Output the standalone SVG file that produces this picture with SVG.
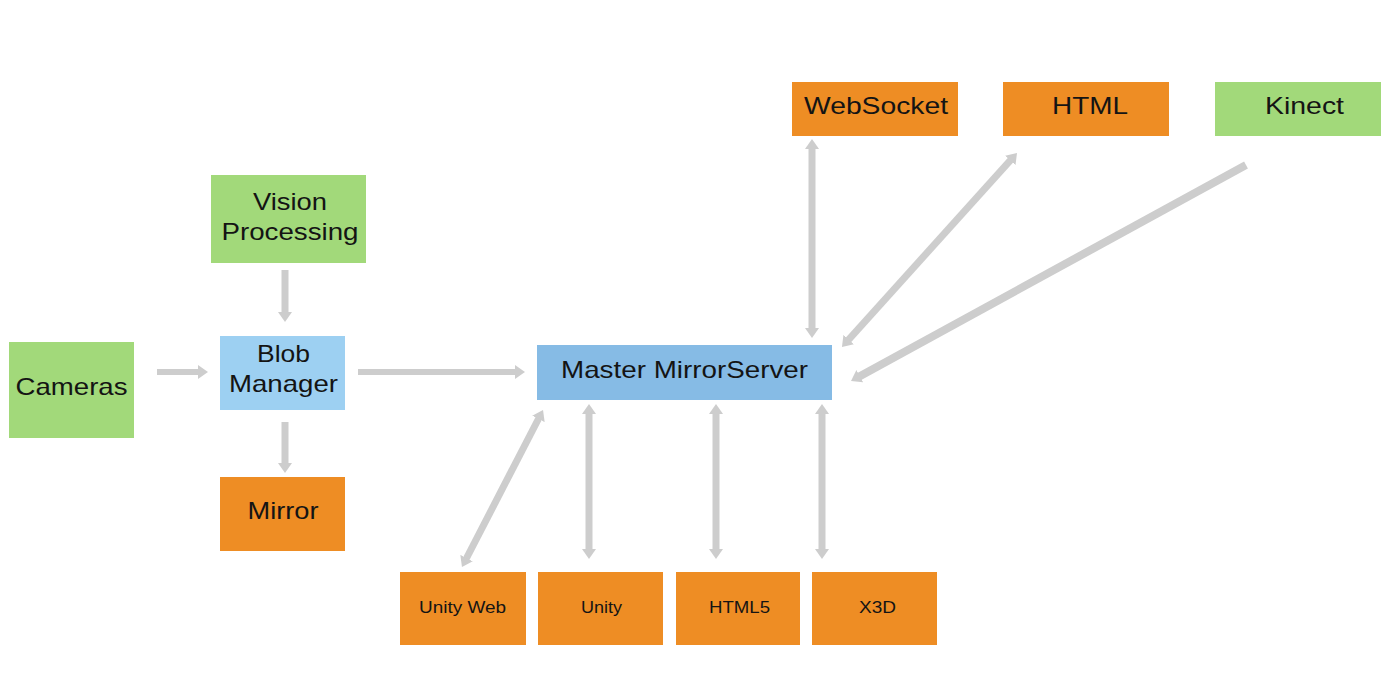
<svg xmlns="http://www.w3.org/2000/svg" width="1400" height="696" viewBox="0 0 1400 696">
<style>
.green{fill:#a2d97a}
.orange{fill:#ee8d24}
.blue1{fill:#9dd0f2}
.blue2{fill:#86bbe5}
text{font-family:"Liberation Sans",Arial,sans-serif;fill:#141414;text-anchor:middle}
.big{font-size:24px}
.small{font-size:16px}
.c{stroke:#cdcdcd;stroke-width:7;fill:none}
</style>
<defs>
<marker id="ah" markerUnits="userSpaceOnUse" markerWidth="10" markerHeight="14" refX="1" refY="7" orient="auto-start-reverse">
<path d="M0,0 L10,7 L0,14 z" fill="#cdcdcd"/>
</marker>
</defs>
<rect width="1400" height="696" fill="#ffffff"/>
<g id="connectors">
<line class="c" x1="285" y1="270" x2="285" y2="313" marker-end="url(#ah)"/>
<line class="c" style="stroke-width:6" x1="157" y1="372" x2="199" y2="372" marker-end="url(#ah)"/>
<line class="c" style="stroke-width:6" x1="358" y1="372" x2="516" y2="372" marker-end="url(#ah)"/>
<line class="c" x1="285" y1="422" x2="285" y2="464" marker-end="url(#ah)"/>
<line class="c" x1="812" y1="148" x2="812" y2="329" marker-start="url(#ah)" marker-end="url(#ah)"/>
<line class="c" x1="848" y1="340.3" x2="1011" y2="159.7" marker-start="url(#ah)" marker-end="url(#ah)"/>
<line class="c" style="stroke-width:8" x1="1246" y1="165" x2="858.9" y2="376.7" marker-end="url(#ah)"/>
<line class="c" x1="466.1" y1="559" x2="538.9" y2="418" marker-start="url(#ah)" marker-end="url(#ah)"/>
<line class="c" x1="589" y1="413" x2="589" y2="550" marker-start="url(#ah)" marker-end="url(#ah)"/>
<line class="c" x1="716" y1="413" x2="716" y2="550" marker-start="url(#ah)" marker-end="url(#ah)"/>
<line class="c" x1="822" y1="413" x2="822" y2="550" marker-start="url(#ah)" marker-end="url(#ah)"/>
</g>
<g id="vision"><rect class="green" x="211" y="175" width="155" height="88"/><text class="big" x="290" y="210" textLength="74" lengthAdjust="spacingAndGlyphs">Vision</text><text class="big" x="290" y="240" textLength="137" lengthAdjust="spacingAndGlyphs">Processing</text></g>
<g id="cameras"><rect class="green" x="9" y="342" width="125" height="96"/><text class="big" x="71.5" y="395" textLength="112" lengthAdjust="spacingAndGlyphs">Cameras</text></g>
<g id="blob"><rect class="blue1" x="220" y="336" width="125" height="74"/><text class="big" x="283.5" y="362" textLength="53" lengthAdjust="spacingAndGlyphs">Blob</text><text class="big" x="283.5" y="392" textLength="109" lengthAdjust="spacingAndGlyphs">Manager</text></g>
<g id="mirror"><rect class="orange" x="220" y="477" width="125" height="74"/><text class="big" x="283" y="519" textLength="71" lengthAdjust="spacingAndGlyphs">Mirror</text></g>
<g id="master"><rect class="blue2" x="537" y="345" width="295" height="55"/><text class="big" x="684.5" y="378" textLength="247" lengthAdjust="spacingAndGlyphs">Master MirrorServer</text></g>
<g id="websocket"><rect class="orange" x="792" y="82" width="166" height="54"/><text class="big" x="876" y="114" textLength="144" lengthAdjust="spacingAndGlyphs">WebSocket</text></g>
<g id="html"><rect class="orange" x="1003" y="82" width="166" height="54"/><text class="big" x="1090" y="114" textLength="76" lengthAdjust="spacingAndGlyphs">HTML</text></g>
<g id="kinect"><rect class="green" x="1215" y="82" width="166" height="54"/><text class="big" x="1304.5" y="114" textLength="79" lengthAdjust="spacingAndGlyphs">Kinect</text></g>
<g id="unityweb"><rect class="orange" x="400" y="572" width="126" height="73"/><text class="small" x="462.5" y="613" textLength="87" lengthAdjust="spacingAndGlyphs">Unity Web</text></g>
<g id="unity"><rect class="orange" x="538" y="572" width="125" height="73"/><text class="small" x="601.5" y="613" textLength="41" lengthAdjust="spacingAndGlyphs">Unity</text></g>
<g id="html5"><rect class="orange" x="676" y="572" width="124" height="73"/><text class="small" x="739.5" y="613" textLength="61" lengthAdjust="spacingAndGlyphs">HTML5</text></g>
<g id="x3d"><rect class="orange" x="812" y="572" width="125" height="73"/><text class="small" x="877.5" y="613" textLength="37" lengthAdjust="spacingAndGlyphs">X3D</text></g>
</svg>
